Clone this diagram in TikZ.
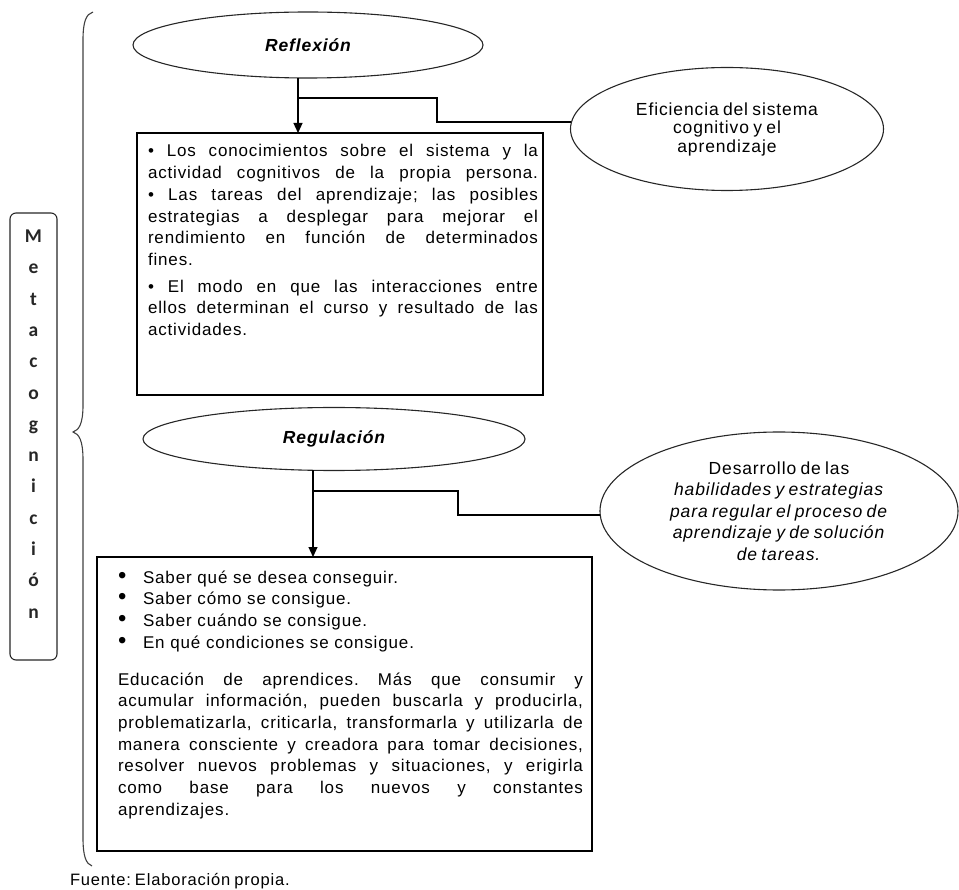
\documentclass[tikz,border=0pt]{standalone}
\usepackage{fontspec}
\usepackage{graphicx}
\setmainfont{Liberation Sans}[LetterSpace=5,WordSpace=0.75]
\newfontfamily\carl{Carlito}
\frenchspacing
\newcommand{\jl}[2]{\leavevmode\hbox to #1{\spaceskip=0.15em plus 1fil\relax\xspaceskip=0.15em plus 1fil\relax #2}}
\newcommand{\bigbul}{\makebox[25pt][l]{\smash{\scalebox{1.4}{•}}}}
\usetikzlibrary{shapes.geometric,arrows.meta}
\begin{document}
\begin{tikzpicture}[x=1pt,y=-1pt,
  every node/.style={inner sep=0pt, outer sep=0pt},
  oval/.style={ellipse, draw=black!85, line width=1.1pt, inner sep=0pt},
  txtbox/.style={draw=black, line width=1.2pt, inner sep=0pt},
  conn/.style={draw=black, line width=1.2pt},
  arr/.style={conn, -{Triangle[length=10pt,width=9pt]}},
  body/.style={font=\fontsize{17}{21.7}\selectfont, align=left},
  title/.style={font=\bfseries\itshape\fontsize{17.5}{20}\selectfont}
]
\useasboundingbox (0,0) rectangle (959,890);

% brace
\draw[line width=1.1pt, black!75] (93,12) .. controls (86,14) and (83,22) .. (83,40) -- (83,405)
  .. controls (83,424) and (79,430) .. (73,432) .. controls (79,434) and (83,440) .. (83,460)
  -- (83,838) .. controls (83,856) and (86,864) .. (92,866);

% Metacognicion
\node[draw=black!85, rounded corners=6pt, line width=1.1pt, minimum width=47pt, minimum height=447pt] (meta) at (33.5,436.5) {};
\node[font=\carl\bfseries\fontsize{19.5}{31.3}\selectfont, align=center, text=black!85] (metatxt) at (33.5,424)
  {M\\e\\t\\a\\c\\o\\g\\n\\i\\c\\i\\ó\\n};

% Reflexion
\node[oval, minimum width=350pt, minimum height=66pt, title] (refl) at (308,45) {Reflexión};
\node[oval, minimum width=313pt, minimum height=123pt, align=center, font=\fontsize{17.5}{18.5}\selectfont] (efi) at (727,129)
  {Eficiencia del sistema\\cognitivo y el\\aprendizaje};
\node[txtbox, minimum width=406pt, minimum height=262pt] (box1) at (340,264) {};
\node[body, anchor=base west, text width=390pt] (t1) at (148,157) {%
\jl{390pt}{• Los conocimientos sobre el sistema y la}\\
\jl{390pt}{actividad cognitivos de la propia persona.}\\
\jl{390pt}{• Las tareas del aprendizaje; las posibles}\\
\jl{390pt}{estrategias a desplegar para mejorar el}\\
\jl{390pt}{rendimiento en función de determinados}\\
fines.\\[5pt]
\jl{390pt}{• El modo en que las interacciones entre}\\
\jl{390pt}{ellos determinan el curso y resultado de las}\\
actividades.};

\coordinate (a1) at ([xshift=-10pt]refl.south);
\draw[arr] (a1) -- (a1 |- box1.north);
\draw[conn] (a1 |- 0,98) -| (437,122) -- (efi.west |- 0,122);

% Regulacion
\node[oval, minimum width=382pt, minimum height=63pt, title] (reg) at (334,439) {Regulación};
\node[oval, minimum width=358pt, minimum height=158pt, align=center, font=\fontsize{17.5}{21.5}\selectfont] (des) at (779,511)
  {Desarrollo de las\\\textit{habilidades y estrategias}\\\textit{para regular el proceso de}\\\textit{aprendizaje y de solución}\\\textit{de tareas.}};
\node[txtbox, minimum width=495pt, minimum height=294pt] (box2) at (344.5,704) {};
\node[body, anchor=base west, text width=450pt] (t2) at (118,583) {%
\bigbul Saber qué se desea conseguir.\\
\bigbul Saber cómo se consigue.\\
\bigbul Saber cuándo se consigue.\\
\bigbul En qué condiciones se consigue.};
\node[body, anchor=base west, text width=465pt] (t3) at (118,685) {%
\jl{465pt}{Educación de aprendices. Más que consumir y}\\
\jl{465pt}{acumular información, pueden buscarla y producirla,}\\
\jl{465pt}{problematizarla, criticarla, transformarla y utilizarla de}\\
\jl{465pt}{manera consciente y creadora para tomar decisiones,}\\
\jl{465pt}{resolver nuevos problemas y situaciones, y erigirla}\\
\jl{465pt}{como base para los nuevos y constantes}\\
aprendizajes.};

\coordinate (a2) at ([xshift=-21pt]reg.south);
\draw[arr] (a2) -- (a2 |- box2.north);
\draw[conn] (a2 |- 0,491) -| (458,515) -- (des.west |- 0,515);

\node[anchor=base west, font=\fontsize{16.5}{19}\selectfont] (fuente) at (70,885) {Fuente: Elaboración propia.};
\end{tikzpicture}
\end{document}
